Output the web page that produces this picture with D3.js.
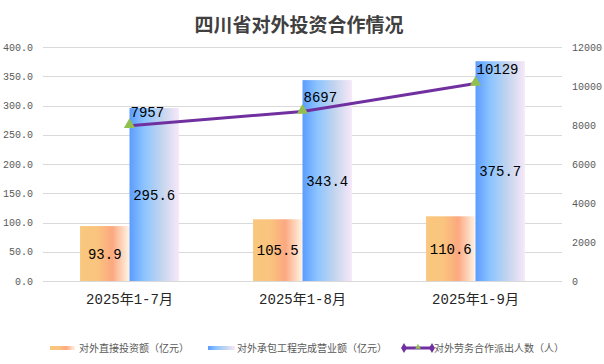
<!DOCTYPE html>
<html><head><meta charset="utf-8">
<script src="https://cdn.jsdelivr.net/npm/d3@7/dist/d3.min.js"></script>
<style>
body{margin:0;background:#fff;}
svg{display:block;}
</style></head>
<body>
<svg id="c" width="604" height="364"></svg>
<script>
const categories = ["2025年1-7月", "2025年1-8月", "2025年1-9月"];
const directInvest = [93.9, 105.5, 110.6];
const contractRevenue = [295.6, 343.4, 375.7];
const laborPersons = [7957, 8697, 10129];
const leftTicks = [0, 50, 100, 150, 200, 250, 300, 350, 400];
const rightTicks = [0, 2000, 4000, 6000, 8000, 10000, 12000];
const seriesNames = ["对外直接投资额（亿元）", "对外承包工程完成营业额（亿元）", "对外劳务合作派出人数（人）"];
const titleText = "四川省对外投资合作情况";

const svg = d3.select("#c");
const M = {left: 43, right: 562, top: 47, bottom: 281};
const mono = "'Liberation Mono','Noto Sans CJK SC',monospace";
const cjk = "'Noto Sans CJK SC','Noto Sans',sans-serif";

const defs = svg.append("defs");
const g1 = defs.append("linearGradient").attr("id","gOrange").attr("x1","0").attr("x2","1").attr("y1","0").attr("y2","0");
[[0,"#F9C77D"],[0.35,"#FAC47E"],[0.65,"#FCA880"],[1,"#FFF5E6"]].forEach(s=>g1.append("stop").attr("offset",s[0]).attr("stop-color",s[1]));
const g2 = defs.append("linearGradient").attr("id","gBlue").attr("x1","0").attr("x2","1").attr("y1","0").attr("y2","0");
[[0,"#5B9CFF"],[0.3,"#8CC4FF"],[0.65,"#C3D5EE"],[1,"#F7E8F8"]].forEach(s=>g2.append("stop").attr("offset",s[0]).attr("stop-color",s[1]));

const x = d3.scaleBand().domain(categories).range([M.left, M.right]).paddingInner(0).paddingOuter(0);
const xs = d3.scaleBand().domain([0,1]).range([0, x.bandwidth()]).paddingInner(0).paddingOuter(0.75);
const yL = d3.scaleLinear().domain([0,400]).range([M.bottom, M.top]);
const yR = d3.scaleLinear().domain([0,12000]).range([M.bottom, M.top]);

// title
svg.append("text").attr("x",299).attr("y",32).attr("text-anchor","middle")
  .attr("font-family",cjk).attr("font-size",19).attr("font-weight","bold").attr("fill","#404040").text(titleText);

// gridlines
svg.append("g").selectAll("line").data(leftTicks).join("line")
  .attr("x1",M.left).attr("x2",M.right).attr("y1",d=>Math.round(yL(d))+0.5).attr("y2",d=>Math.round(yL(d))+0.5)
  .attr("stroke","#d9d9d9").attr("stroke-width",1);

// left axis
const axL = svg.append("g").attr("transform",`translate(${M.left},0)`)
  .call(d3.axisLeft(yL).tickValues(leftTicks).tickFormat(d3.format(".1f")).tickSize(0).tickPadding(10));
axL.select(".domain").remove();
axL.selectAll("text").attr("font-family",mono).attr("font-size",10).attr("fill","#595959");

// right axis
const axR = svg.append("g").attr("transform",`translate(${M.right},0)`)
  .call(d3.axisRight(yR).tickValues(rightTicks).tickFormat(d3.format("d")).tickSize(0).tickPadding(10));
axR.select(".domain").remove();
axR.selectAll("text").attr("font-family",mono).attr("font-size",10).attr("fill","#595959");

// bottom axis labels
const axB = svg.append("g").attr("transform",`translate(0,${M.bottom})`)
  .call(d3.axisBottom(x).tickSize(0).tickPadding(13));
axB.select(".domain").remove();
axB.selectAll("text").attr("font-family",mono).attr("font-size",14).attr("fill","#262626");

// bars
const barData = [directInvest, contractRevenue];
const fills = ["url(#gOrange)","url(#gBlue)"];
barData.forEach((arr,si)=>{
  const gb = svg.append("g");
  gb.selectAll("rect").data(arr).join("rect")
    .attr("x",(d,i)=>x(categories[i])+xs(si))
    .attr("width",xs.bandwidth())
    .attr("y",d=>yL(d)).attr("height",d=>yL(0)-yL(d))
    .attr("fill",fills[si]);
  gb.selectAll("text").data(arr).join("text")
    .attr("x",(d,i)=>x(categories[i])+xs(si)+xs.bandwidth()/2)
    .attr("y",d=>(yL(d)+yL(0))/2+5)
    .attr("text-anchor","middle").attr("font-family",mono).attr("font-size",14).attr("fill","#000")
    .text(d=>d.toFixed(1));
});

// line
const cx = i=>x(categories[i])+x.bandwidth()/2;
const line = d3.line().x((d,i)=>cx(i)).y(d=>yR(d));
svg.append("path").datum(laborPersons).attr("d",line).attr("fill","none")
  .attr("stroke","#7030A0").attr("stroke-width",3);
const tri = d3.symbol().type(d3.symbolTriangle).size(55);
svg.append("g").selectAll("path").data(laborPersons).join("path")
  .attr("transform",(d,i)=>`translate(${cx(i)},${yR(d)-1})`).attr("d",tri).attr("fill","#92C050");
svg.append("g").selectAll("text").data(laborPersons).join("text")
  .attr("x",(d,i)=>cx(i)+1).attr("y",d=>yR(d)-9)
  .attr("font-family",mono).attr("font-size",14).attr("fill","#000").text(d=>d);

// legend
const lg = svg.append("g").attr("font-family",cjk).attr("font-size",10).attr("fill","#595959");
const ly = 348;
lg.append("rect").attr("x",50).attr("y",ly-2).attr("width",25).attr("height",4).attr("fill","url(#gOrange)");
lg.append("text").attr("x",79).attr("y",ly+4).text(seriesNames[0]);
lg.append("rect").attr("x",208).attr("y",ly-2).attr("width",27).attr("height",4).attr("fill","url(#gBlue)");
lg.append("text").attr("x",237).attr("y",ly+4).text(seriesNames[1]);
lg.append("line").attr("x1",404).attr("x2",432).attr("y1",ly).attr("y2",ly).attr("stroke","#7030A0").attr("stroke-width",3);
[404,432].forEach(px=>lg.append("path").attr("transform",`translate(${px},${ly})`).attr("d",d3.symbol().type(d3.symbolDiamond).size(30)).attr("fill","#7030A0"));
lg.append("path").attr("transform",`translate(418,${ly-1})`).attr("d",d3.symbol().type(d3.symbolTriangle).size(14)).attr("fill","#92C050");
lg.append("text").attr("x",434).attr("y",ly+4).text(seriesNames[2]);
</script>
</body></html>
